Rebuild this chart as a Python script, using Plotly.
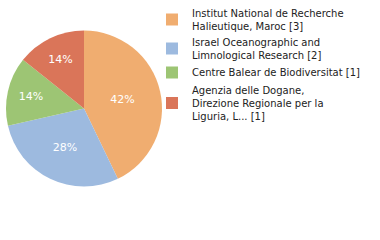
import plotly.graph_objects as go

labels = [
    "Institut National de Recherche<br>Halieutique, Maroc [3]",
    "Israel Oceanographic and<br>Limnological Research [2]",
    "Centre Balear de Biodiversitat [1]",
    "Agenzia delle Dogane,<br>Direzione Regionale per la<br>Liguria, L... [1]",
]
values = [3, 2, 1, 1]
pct_text = ["42%", "28%", "14%", "14%"]
colors = ["#f0ad70", "#9dbadf", "#9dc574", "#da7559"]

fig = go.Figure(go.Pie(
    labels=labels,
    values=values,
    text=pct_text,
    textinfo="text",
    textposition="inside",
    insidetextorientation="horizontal",
    textfont=dict(color="white", size=11, family="DejaVu Sans"),
    marker=dict(colors=colors, line=dict(width=0)),
    sort=False,
    direction="clockwise",
    rotation=0,
    domain=dict(x=[6/380, 162/380], y=[(240-187)/240, (240-30)/240]),
    hoverinfo="none",
))

fig.update_layout(
    width=380, height=240,
    margin=dict(l=0, r=0, t=0, b=0),
    paper_bgcolor="white",
    plot_bgcolor="white",
    font=dict(family="DejaVu Sans", size=10, color="#222222"),
    showlegend=True,
    legend=dict(
        x=0.40, y=1.0, xanchor="left", yanchor="top",
        traceorder="normal",
        font=dict(size=10, family="DejaVu Sans", color="#222222"),
        itemwidth=30,
        bgcolor="rgba(0,0,0,0)",
    ),
)

fig.write_html("out.html")
